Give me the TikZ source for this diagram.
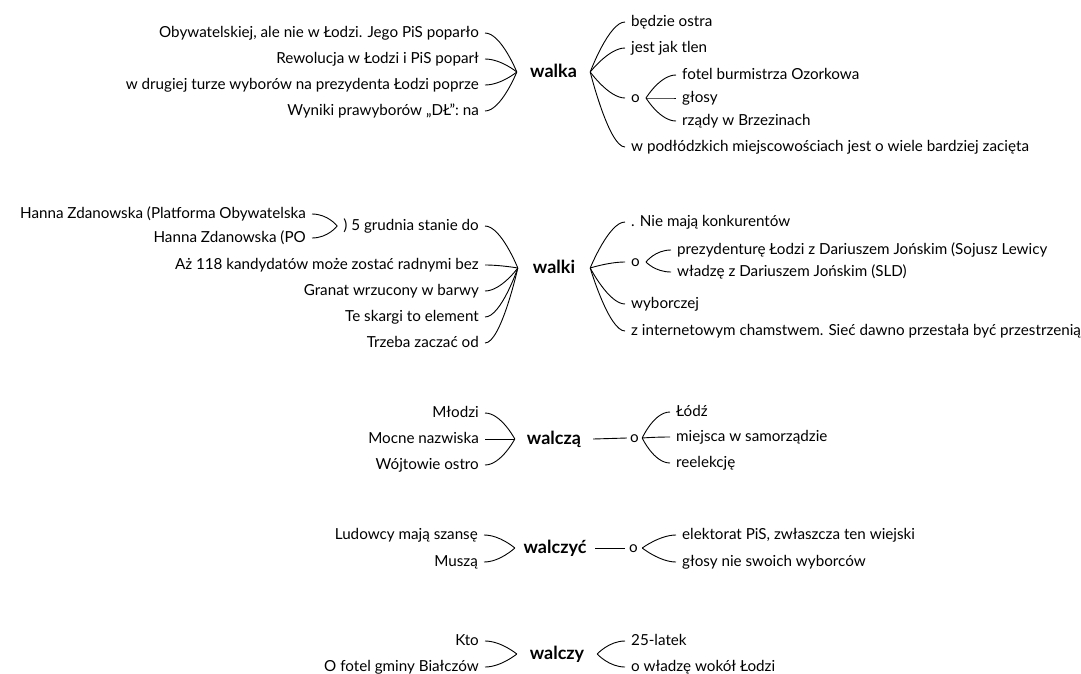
\documentclass[tikz,border=0pt]{standalone}
\usepackage{fontspec}
\setmainfont{Lato}
\usepackage{tikz}

\tikzset{
  word/.style={inner xsep=6pt, inner ysep=0pt, text height=8.5pt, text depth=0pt, font=\fontsize{15.2}{17}\selectfont},
  lword/.style={word, anchor=east},
  rword/.style={word, anchor=west},
  root/.style={inner sep=0pt, text height=11pt, text depth=0pt, font=\fontsize{18}{20}\selectfont\bfseries},
  twig/.style={line width=0.9pt}
}
% leaf -> hub and hub -> leaf
\newcommand{\inbr}[2]{\draw[twig] (#1.east) .. controls +(16,0) and +(0,0) .. (#2.west);}
\newcommand{\outbr}[2]{\draw[twig] (#1.east) .. controls +(0,0) and +(-16,0) .. (#2.west);}

\begin{document}
\begin{tikzpicture}[x=1pt,y=-1pt]
\useasboundingbox[fill=white] (0,0) rectangle (1081,673);

% walka
\node[root, minimum width=73pt] (walka) at (553.5,72) {walka};
\node[lword] (a1) at (485,33) {Obywatelskiej, ale nie w Łodzi. Jego PiS poparło};
\node[lword] (a2) at (485,59) {Rewolucja w Łodzi i PiS poparł};
\node[lword] (a3) at (485,85) {w drugiej turze wyborów na prezydenta Łodzi poprze};
\node[lword] (a4) at (485,111) {Wyniki prawyborów „DŁ”: na};
\node[rword] (b1) at (625,22) {będzie ostra};
\node[rword] (b2) at (625,48) {jest jak tlen};
\node[rword] (b3) at (625,98) {o};
\node[rword] (b4) at (625,147) {w podłódzkich miejscowościach jest o wiele bardziej zacięta};
\node[rword] (c1) at (676,75) {fotel burmistrza Ozorkowa};
\node[rword] (c2) at (676,98) {głosy};
\node[rword] (c3) at (676,121) {rządy w Brzezinach};
\foreach \i in {a1,a2,a3,a4} {\inbr{\i}{walka}}
\foreach \i in {b1,b2,b3,b4} {\outbr{walka}{\i}}
\foreach \i in {c1,c2,c3} {\outbr{b3}{\i}}

% walki
\node[root, minimum width=72pt] (walki) at (554,268) {walki};
\node[lword] (p5) at (485,226) {) 5 grudnia stanie do};
\node[lword] (h1) at (312,214) {Hanna Zdanowska (Platforma Obywatelska};
\node[lword] (h2) at (312,238) {Hanna Zdanowska (PO};
\node[lword] (k2) at (485,265) {Aż 118 kandydatów może zostać radnymi bez};
\node[lword] (k3) at (485,291) {Granat wrzucony w barwy};
\node[lword] (k4) at (485,317) {Te skargi to element};
\node[lword] (k5) at (485,343) {Trzeba zaczać od};
\node[rword] (m1) at (625,222) {. Nie mają konkurentów};
\node[rword] (m2) at (625,262) {o};
\node[rword] (m3) at (625,304) {wyborczej};
\node[rword] (m4) at (625,331) {z internetowym chamstwem. Sieć dawno przestała być przestrzenią};
\node[rword] (n1) at (671,250) {prezydenturę Łodzi z Dariuszem Jońskim (Sojusz Lewicy};
\node[rword] (n2) at (671,272) {władzę z Dariuszem Jońskim (SLD)};
\foreach \i in {h1,h2} {\inbr{\i}{p5}}
\foreach \i in {p5,k2,k3,k4,k5} {\inbr{\i}{walki}}
\foreach \i in {m1,m2,m3,m4} {\outbr{walki}{\i}}
\foreach \i in {n1,n2} {\outbr{m2}{\i}}

% walczą
\node[root, minimum width=78pt] (walcza) at (554,439) {walczą};
\node[lword] (q1) at (485,413) {Młodzi};
\node[lword] (q2) at (485,439) {Mocne nazwiska};
\node[lword] (q3) at (485,465) {Wójtowie ostro};
\node[word, minimum width=15pt, inner xsep=0pt] (o3) at (634.5,438) {o};
\node[rword] (r1) at (670,412) {Łódź};
\node[rword] (r2) at (670,437) {miejsca w samorządzie};
\node[rword] (r3) at (670,463) {reelekcję};
\foreach \i in {q1,q2,q3} {\inbr{\i}{walcza}}
\draw[twig] (walcza.east) -- (o3.west);
\foreach \i in {r1,r2,r3} {\outbr{o3}{\i}}

% walczyć
\node[root, minimum width=80pt] (walczyc) at (555,548) {walczyć};
\node[lword] (s1) at (484,535) {Ludowcy mają szansę};
\node[lword] (s2) at (484,562) {Muszą};
\node[word, minimum width=17pt, inner xsep=0pt] (o4) at (633.5,548) {o};
\node[rword] (t1) at (676,535) {elektorat PiS, zwłaszcza ten wiejski};
\node[rword] (t2) at (676,562) {głosy nie swoich wyborców};
\foreach \i in {s1,s2} {\inbr{\i}{walczyc}}
\draw[twig] (walczyc.east) -- (o4.west);
\foreach \i in {t1,t2} {\outbr{o4}{\i}}

% walczy
\node[root, minimum width=80pt] (walczy) at (557,654) {walczy};
\node[lword] (u1) at (485,641) {Kto};
\node[lword] (u2) at (485,667) {O fotel gminy Białczów};
\node[rword] (v1) at (625,641) {25-latek};
\node[rword] (v2) at (625,667) {o władzę wokół Łodzi};
\foreach \i in {u1,u2} {\inbr{\i}{walczy}}
\foreach \i in {v1,v2} {\outbr{walczy}{\i}}
\end{tikzpicture}
\end{document}
